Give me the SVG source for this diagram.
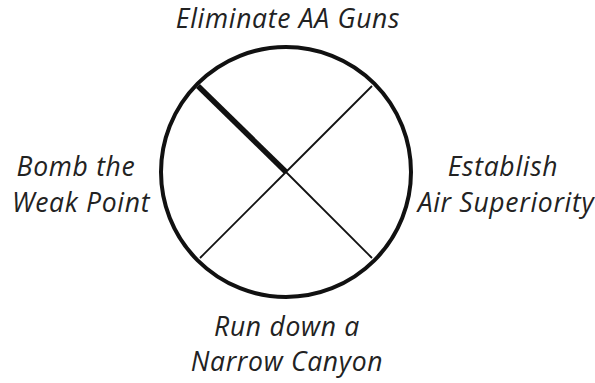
<svg xmlns="http://www.w3.org/2000/svg" width="595" height="383" viewBox="0 0 595 383">
<style>
  text { font-family: "Open Sans", "DejaVu Sans", sans-serif; font-style: italic; font-size: 26.5px; letter-spacing: 0.7px; fill: #222; text-anchor: middle; }
  .ring { fill: none; stroke: #111; stroke-width: 4; }
  .thin { stroke: #111; stroke-width: 1.8; }
  .thick { stroke: #111; stroke-width: 5.5; }
</style>
<rect width="595" height="383" fill="#fff"/>
<g id="connectors">
  <line class="thin" x1="286" y1="172" x2="372" y2="86"/>
  <line class="thin" x1="286" y1="172" x2="200" y2="258"/>
  <line class="thin" x1="286" y1="172" x2="372" y2="258"/>
  <line class="thick" x1="286" y1="172" x2="198" y2="86"/>
</g>
<g id="wheel"><circle class="ring" cx="286" cy="172" r="125"/></g>
<g id="top"><text x="288" y="28">Eliminate AA Guns</text></g>
<g id="left"><text x="76" y="176">Bomb the</text><text x="81" y="212">Weak Point</text></g>
<g id="right"><text x="503" y="176">Establish</text><text x="506" y="212">Air Superiority</text></g>
<g id="bottom"><text x="287" y="336">Run down a</text><text x="287" y="371">Narrow Canyon</text></g>
</svg>
